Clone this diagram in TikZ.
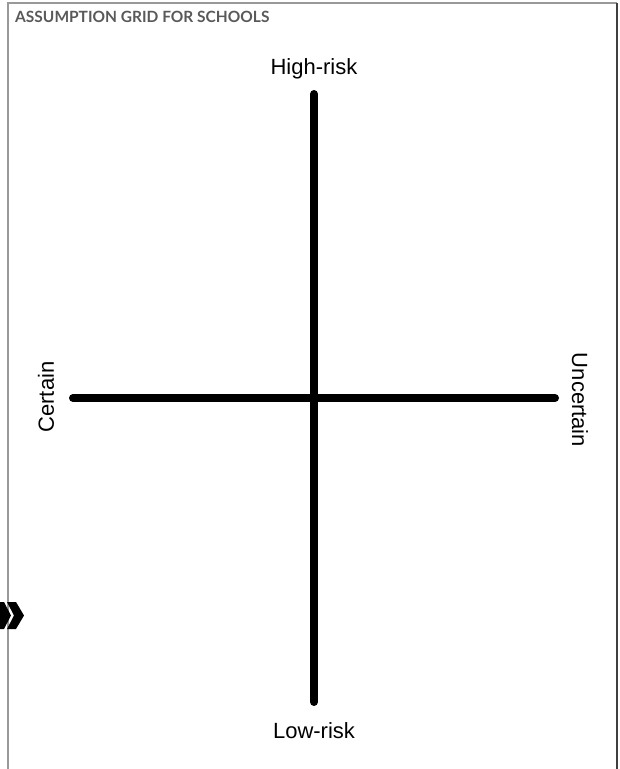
\documentclass[tikz,border=0pt]{standalone}
\usepackage{fontspec}
\setmainfont{Liberation Sans}
\newfontfamily\titlefont{Lato}
\usetikzlibrary{positioning}

\begin{document}
\begin{tikzpicture}[
    x=1pt, y=-1pt,
    axis/.style={line width=8pt, line cap=round},
    pole/.style={font=\fontsize{22}{26}\selectfont, inner sep=0pt},
    frame/.style={line width=1.3pt, draw=black!40}
]
    \useasboundingbox (0,0) rectangle (620,769);

    % Frame and heading
    \draw[frame] (8,769) -- (8,3) -- (617,3);
    \draw[frame, draw=black!75] (617,3) -- (617,769);
    \node[anchor=west, inner sep=0pt, text=black!65, font=\titlefont\bfseries\fontsize{15.5}{18}\selectfont] (title) at (15,17) {ASSUMPTION GRID FOR SCHOOLS};

    % Axes
    \coordinate (top) at (314,94);
    \coordinate (bottom) at (314,702);
    \coordinate (left) at (73,398);
    \coordinate (right) at (555,398);
    \draw[axis] (top) -- (bottom);
    \draw[axis] (left) -- (right);

    % Axis labels
    \node[pole] (high) at (314,69) {High-risk};
    \node[pole] (low) at (314,731) {Low-risk};
    \node[pole, rotate=90] (certain) at (46,397) {Certain};
    \node[pole, rotate=-90] (uncertain) at (580,400) {Uncertain};

    % Chevron on the left edge
    \fill (0,602) -- (4,602) -- (11,615.5) -- (4,629) -- (0,629) -- cycle;
    \fill (7,602) -- (16,602) -- (24,615.5) -- (16,629) -- (7,629) -- (14,615.5) -- cycle;
\end{tikzpicture}
\end{document}
